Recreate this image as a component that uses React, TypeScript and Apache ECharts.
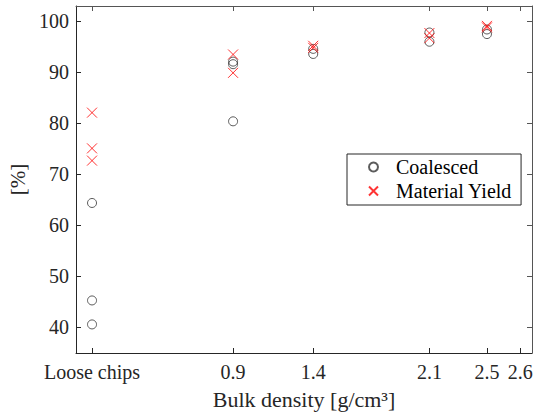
import React, { useEffect, useRef } from "react";
import * as echarts from "echarts";

// Axis coordinate of each x tick / group, and its label
const xPositions = [0.02, 0.9, 1.4, 2.125, 2.484, 2.692];
const xLabels = ["Loose chips", "0.9", "1.4", "2.1", "2.5", "2.6"];
const yTicks = [40, 50, 60, 70, 80, 90, 100];

// Values per group (groups follow xPositions order; 2.6 has no data)
const coalesced = [
  [64.4, 45.3, 40.6],
  [80.4, 91.6, 92.1],
  [93.6, 94.6],
  [96.0, 97.8],
  [97.5, 98.4],
];
const materialYield = [
  [82.1, 75.1, 72.7],
  [93.5, 89.9],
  [95.2, 94.8],
  [97.7, 96.7],
  [99.1, 98.8],
];

const FONT = "'Liberation Serif', 'Times New Roman', serif";
const INK = "#262626";

function toPoints(groups: number[][]) {
  const pts: number[][] = [];
  groups.forEach((vals, i) => vals.forEach((v) => pts.push([xPositions[i], v])));
  return pts;
}

export default function App() {
  const ref = useRef<HTMLDivElement>(null);
  useEffect(() => {
    if (!ref.current) return;
    const chart = echarts.init(ref.current, undefined, { renderer: "svg" });
    const labelFor = (v: number) => {
      const i = xPositions.findIndex((p) => Math.abs(p - v) < 1e-6);
      return i >= 0 ? xLabels[i] : "";
    };
    const xMin = -0.08;
    const xMax = 2.765;
    chart.setOption({
      animation: false,
      textStyle: { fontFamily: FONT },
      grid: { left: 76, right: 2, top: 6, bottom: 62, containLabel: false, outerBoundsMode: "none" },
      legend: {
        orient: "vertical",
        left: 347,
        top: 154,
        borderColor: INK,
        borderWidth: 1,
        borderRadius: 0,
        padding: [3, 9, 4, 21],
        itemGap: 4,
        itemWidth: 9,
        itemHeight: 9,
        textStyle: {
          fontFamily: FONT,
          fontSize: 20,
          color: "#000",
          lineHeight: 20,
          padding: [0, 0, 0, 13],
        },
        data: ["Coalesced", "Material Yield"],
      },
      xAxis: [
        {
          type: "value",
          min: xMin,
          max: xMax,
          name: "Bulk density [g/cm³]",
          nameLocation: "middle",
          nameGap: 35,
          nameTextStyle: { fontFamily: FONT, fontSize: 22, color: INK },
          axisLine: { show: true, onZero: false, lineStyle: { color: INK, width: 1 } },
          axisTick: {
            show: true,
            inside: true,
            length: 5,
            customValues: xPositions,
            lineStyle: { color: INK },
          },
          axisLabel: {
            show: true,
            customValues: xPositions,
            formatter: (v: number) => labelFor(v),
            fontFamily: FONT,
            fontSize: 20,
            color: INK,
            margin: 9,
          },
          splitLine: { show: false },
        },
        {
          type: "value",
          position: "top",
          min: xMin,
          max: xMax,
          axisLine: { show: true, onZero: false, lineStyle: { color: "#555", width: 1 } },
          axisTick: {
            show: true,
            inside: true,
            length: 5,
            customValues: xPositions,
            lineStyle: { color: "#555" },
          },
          axisLabel: { show: false },
          splitLine: { show: false },
        },
      ],
      yAxis: [
        {
          type: "value",
          min: 35,
          max: 103,
          name: "[%]",
          nameLocation: "middle",
          nameGap: 47,
          nameRotate: 90,
          nameTextStyle: { fontFamily: FONT, fontSize: 21, color: INK },
          axisLine: { show: true, onZero: false, lineStyle: { color: INK, width: 1 } },
          axisTick: {
            show: true,
            inside: true,
            length: 5,
            customValues: yTicks,
            lineStyle: { color: INK },
          },
          axisLabel: {
            show: true,
            customValues: yTicks,
            fontFamily: FONT,
            fontSize: 20,
            color: INK,
            margin: 7,
          },
          splitLine: { show: false },
        },
        {
          type: "value",
          position: "right",
          min: 35,
          max: 103,
          axisLine: { show: true, onZero: false, lineStyle: { color: "#555", width: 1 } },
          axisTick: {
            show: true,
            inside: true,
            length: 5,
            customValues: yTicks,
            lineStyle: { color: "#555" },
          },
          axisLabel: { show: false },
          splitLine: { show: false },
        },
      ],
      series: [
        {
          name: "Coalesced",
          type: "scatter",
          symbol: "circle",
          symbolSize: 9,
          itemStyle: { color: "rgba(255,255,255,0)", borderColor: "#333", borderWidth: 1 },
          data: toPoints(coalesced),
          z: 2,
        },
        {
          name: "Material Yield",
          type: "scatter",
          symbol: "path://M0,0L10,10M10,0L0,10",
          symbolSize: 10,
          itemStyle: { color: "rgba(255,0,0,0)", borderColor: "#ff0000", borderWidth: 1 },
          data: toPoints(materialYield),
          z: 3,
        },
      ],
    });
    return () => chart.dispose();
  }, []);
  return (
    <div
      ref={ref}
      style={{ position: "absolute", left: 0, top: 0, width: 534, height: 415 }}
    />
  );
}
